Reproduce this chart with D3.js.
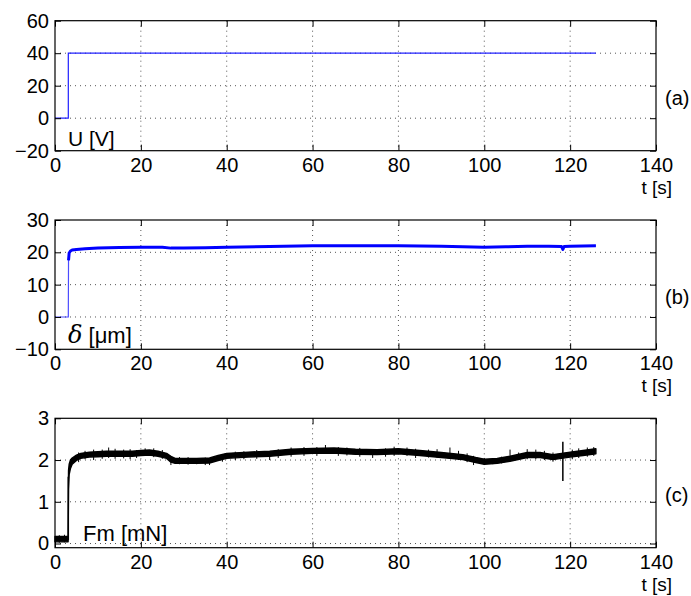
<!DOCTYPE html>
<html><head><meta charset="utf-8">
<script src="https://cdn.jsdelivr.net/npm/d3@7"></script>
<style>
body{margin:0;background:#fff;}
text{font-family:"Liberation Sans",Arial,sans-serif;fill:#000;}
</style></head>
<body><svg id="c" width="691" height="596"></svg>
<script>
// ---- data ----
const xTicks = [0, 20, 40, 60, 80, 100, 120, 140];
const aTicks = [-20, 0, 20, 40, 60];
const bTicks = [-10, 0, 10, 20, 30];
const cTicks = [0, 1, 2, 3];

// (a) voltage U [V]
const uT = [0, 3.1, 3.1, 126];
const uV = [0, 0, 40, 40];

// (b) displacement delta [um]
const dT = [0, 3.1, 3.15, 3.3, 3.6, 4, 5, 7, 10, 15, 20, 25, 27, 30, 35, 40, 50, 60, 70, 80, 90, 95, 100, 105, 110, 115, 118, 118.3, 118.6, 120, 126];
const dV = [0, 0, 17.5, 19.8, 20.4, 20.7, 20.9, 21.1, 21.3, 21.5, 21.6, 21.6, 21.3, 21.3, 21.4, 21.6, 21.8, 22.0, 22.0, 22.0, 21.9, 21.7, 21.6, 21.7, 21.9, 21.9, 21.8, 20.9, 21.8, 21.9, 22.0];

// (c) force Fm [mN] : noise envelope (low / high)
const fT  = [0, 3.05, 3.15, 3.3, 3.6, 4, 5, 6, 8, 10, 12, 15, 18, 20, 22, 24, 26, 27, 28, 30, 33, 36, 38, 40, 45, 50, 55, 60, 65, 70, 75, 80, 85, 90, 95, 98, 100, 103, 106, 110, 113, 116, 118, 120, 123, 126];
const fLo = [0.04, 0.04, 1.3, 1.65, 1.8, 1.9, 1.99, 2.04, 2.07, 2.08, 2.09, 2.09, 2.09, 2.11, 2.12, 2.09, 2.04, 1.95, 1.92, 1.92, 1.92, 1.93, 1.99, 2.04, 2.07, 2.09, 2.14, 2.16, 2.17, 2.14, 2.13, 2.15, 2.11, 2.06, 2.01, 1.94, 1.9, 1.92, 1.97, 2.06, 2.06, 2.01, 2.04, 2.07, 2.11, 2.15];
const fHi = [0.17, 0.17, 1.75, 1.9, 2.0, 2.05, 2.12, 2.16, 2.19, 2.2, 2.21, 2.21, 2.21, 2.23, 2.24, 2.21, 2.16, 2.09, 2.04, 2.04, 2.04, 2.05, 2.11, 2.16, 2.19, 2.21, 2.26, 2.28, 2.29, 2.26, 2.25, 2.27, 2.23, 2.18, 2.13, 2.06, 2.02, 2.04, 2.09, 2.18, 2.18, 2.13, 2.16, 2.19, 2.23, 2.27];
// isolated spikes off the noise band: time, min, max
const sT  = [3.1, 1.0, 2.2, 5.5, 7, 9, 11, 12.5, 14, 16, 17.5, 19, 21, 23, 25, 27, 29, 31, 33, 35, 36, 39, 42, 44, 47, 50, 52, 55, 58, 61, 63, 66, 68, 71, 74, 77, 79, 82, 84, 87, 89, 92, 94, 96, 97.5, 100, 102, 104, 106, 108, 110, 112, 114, 116, 118.3, 120.5, 122, 124, 125.5];
const sLo = [0.08, 0.02, 0.03, 1.95, 2.02, 2.0, 2.03, 2.05, 2.03, 2.04, 2.02, 2.05, 2.1, 2.07, 2.03, 1.88, 1.9, 1.89, 1.9, 1.88, 1.88, 1.96, 2.0, 2.02, 2.03, 2.0, 2.05, 2.08, 2.1, 2.1, 2.15, 2.1, 2.11, 2.08, 2.05, 2.08, 2.1, 2.1, 2.05, 2.06, 2.05, 2.1, 2.0, 1.95, 1.88, 1.88, 1.9, 1.92, 2.0, 2.0, 2.02, 2.02, 2.0, 1.96, 1.5, 2.02, 2.05, 2.08, 2.1];
const sHi = [1.6, 0.2, 0.21, 2.18, 2.22, 2.25, 2.25, 2.3, 2.27, 2.25, 2.26, 2.24, 2.28, 2.28, 2.24, 2.1, 2.07, 2.07, 2.04, 2.06, 2.03, 2.14, 2.2, 2.21, 2.24, 2.2, 2.26, 2.3, 2.31, 2.31, 2.36, 2.31, 2.3, 2.29, 2.25, 2.28, 2.32, 2.3, 2.27, 2.25, 2.26, 2.3, 2.22, 2.16, 2.1, 2.05, 2.04, 2.08, 2.25, 2.18, 2.26, 2.25, 2.22, 2.18, 2.44, 2.25, 2.28, 2.3, 2.31];

// ---- layout ----
const svg = d3.select("#c");
const L = 55, R = 656;
const FONT = "Liberation Sans";
const panels = [
  {top: 20.7, bot: 150.7, dom: [-20, 60], ticks: aTicks, tag: "(a)"},
  {top: 220, bot: 349.3, dom: [-10, 30], ticks: bTicks, tag: "(b)"},
  {top: 418.3, bot: 547.7, dom: [-0.1, 3], ticks: cTicks, tag: "(c)"}
];
const x = d3.scaleLinear().domain([0, 140]).range([L, R]);
const fmt = d => d < 0 ? "\u2212" + Math.abs(d) : String(d);

panels.forEach(p => {
  p.y = d3.scaleLinear().domain(p.dom).range([p.bot, p.top]);
  const g = svg.append("g");
  g.selectAll(".vg").data(xTicks.filter(t => t > 0 && t < 140)).join("line")
    .attr("x1", d => x(d)).attr("x2", d => x(d)).attr("y1", p.top).attr("y2", p.bot)
    .attr("stroke", "#555").attr("stroke-width", 1).attr("stroke-dasharray", "1,4");
  g.selectAll(".hg").data(p.ticks.filter(t => t > p.dom[0] && t < p.dom[1])).join("line")
    .attr("x1", L).attr("x2", R).attr("y1", d => p.y(d)).attr("y2", d => p.y(d))
    .attr("stroke", "#555").attr("stroke-width", 1).attr("stroke-dasharray", "1,4");
  p.g = g;
});

function axes(p) {
  const g = svg.append("g");
  const xb = d3.axisBottom(x).tickValues(xTicks).tickFormat(fmt).tickSizeInner(-6).tickSizeOuter(0).tickPadding(7);
  const xt = d3.axisTop(x).tickValues(xTicks).tickFormat("").tickSizeInner(-6).tickSizeOuter(0);
  const yl = d3.axisLeft(p.y).tickValues(p.ticks).tickFormat(fmt).tickSizeInner(-6).tickSizeOuter(0).tickPadding(6);
  const yr = d3.axisRight(p.y).tickValues(p.ticks).tickFormat("").tickSizeInner(-6).tickSizeOuter(0);
  const style = s => { s.selectAll(".domain").remove(); s.selectAll("line").attr("stroke", "#000");
    s.selectAll("text").style("font-size", "20px").attr("fill", "#000"); };
  g.append("g").attr("transform", `translate(0,${p.bot})`).call(xb).call(style);
  g.append("g").attr("transform", `translate(0,${p.top})`).call(xt).call(style);
  g.append("g").attr("transform", `translate(${L},0)`).call(yl).call(style);
  g.append("g").attr("transform", `translate(${R},0)`).call(yr).call(style);
  g.selectAll("text").attr("font-family", FONT);
  svg.append("rect").attr("x", L).attr("y", p.top).attr("width", R - L).attr("height", p.bot - p.top)
    .attr("fill", "none").attr("stroke", "#000").attr("stroke-width", 1.2);
  svg.append("text").attr("x", 672).attr("y", p.bot + 43).attr("text-anchor", "end")
    .style("font-size", "19px").text("t [s]");
  svg.append("text").attr("x", 665).attr("y", p.top + 84).style("font-size", "20px").text(p.tag);
}

// (a)
{
  const p = panels[0];
  const pts = uT.map((t, i) => [t, uV[i]]);
  p.g.append("path").datum(pts).attr("fill", "none").attr("stroke", "#2020ff").attr("stroke-width", 1.2)
    .attr("d", d3.line().x(d => x(d[0])).y(d => p.y(d[1])));
  axes(p);
  svg.append("text").attr("x", 68).attr("y", p.bot - 4.5).style("font-size", "21px").text("U [V]");
}
// (b)
{
  const p = panels[1];
  const pts = dT.map((t, i) => [t, dV[i]]);
  const line = d3.line().x(d => x(d[0])).y(d => p.y(d[1]));
  p.g.append("path").datum(pts).attr("fill", "none").attr("stroke", "#0000ff").attr("stroke-width", 1.2)
    .attr("stroke-opacity", 0.7).attr("d", line);
  p.g.append("path").datum(pts.filter(d => d[0] >= 3.15)).attr("fill", "none").attr("stroke", "#0000ff")
    .attr("stroke-width", 3).attr("stroke-linejoin", "round").attr("d", line);
  axes(p);
  const t = svg.append("text").attr("x", 68).attr("y", p.bot - 6.5).style("font-size", "22px");
  t.append("tspan").attr("font-family", "DejaVu Serif").attr("font-style", "italic").style("font-size", "24px").text("\u03B4");
  t.append("tspan").text(" [\u03BCm]");
}
// (c)
{
  const p = panels[2];
  const pts = fT.map((t, i) => [t, fLo[i], fHi[i]]);
  p.g.append("path").datum(pts).attr("fill", "#000").attr("stroke", "#000").attr("stroke-width", 1.4)
    .attr("stroke-linejoin", "round")
    .attr("d", d3.area().x(d => x(d[0])).y0(d => p.y(d[1])).y1(d => p.y(d[2])));
  p.g.selectAll(".sp").data(sT.map((t, i) => [t, sLo[i], sHi[i]])).join("line")
    .attr("x1", d => x(d[0])).attr("x2", d => x(d[0])).attr("y1", d => p.y(d[1])).attr("y2", d => p.y(d[2]))
    .attr("stroke", "#000").attr("stroke-width", (d, i) => (i === 0 || d[0] === 118.3) ? 1.5 : 1);
  axes(p);
  svg.append("text").attr("x", 83).attr("y", p.bot - 7).style("font-size", "22px").text("Fm [mN]");
}
</script></body></html>
